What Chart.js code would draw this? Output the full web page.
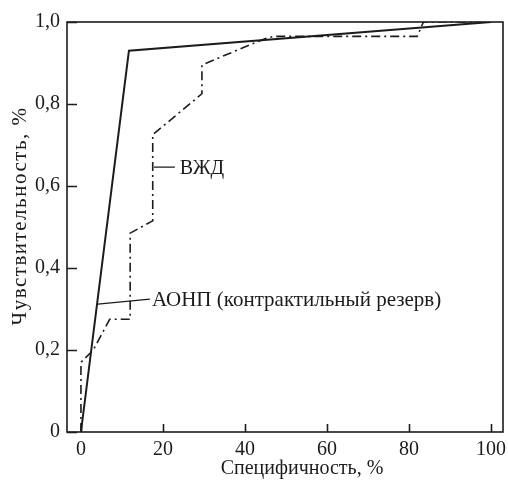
<!DOCTYPE html>
<html>
<head>
<meta charset="utf-8">
<script src="https://cdn.jsdelivr.net/npm/chart.js@4/dist/chart.umd.min.js"></script>
<style>
  html, body { margin: 0; padding: 0; background: #fff; }
  #wrap { width: 508px; height: 483px; }
</style>
</head>
<body>
<div id="wrap"><canvas id="roc"></canvas></div>
<script>
// data
const xTicks = [0, 20, 40, 60, 80, 100];
const yTicks = [0, 0.2, 0.4, 0.6, 0.8, 1.0];

const aonpX = [0, 11.7, 100];
const aonpY = [0, 0.93, 1.0];

const vzhdX = [0, 0, 3, 7, 12, 12, 17.5, 17.5, 29.5, 29.5, 33, 45, 47, 82, 83.5, 100];
const vzhdY = [0, 0.17, 0.2, 0.275, 0.275, 0.485, 0.515, 0.725, 0.825, 0.895, 0.91, 0.96, 0.965, 0.965, 1.0, 1.0];

const seriesNames = ["АОНП (контрактильный резерв)", "ВЖД"];
const xTitle = "Специфичность, %";
const yTitle = "Чувствительность, %";

const ink = "#1c1c1c";
const serif = "'Liberation Serif', 'DejaVu Serif', serif";

const toPoints = (xs, ys) => xs.map((x, i) => ({ x: x, y: ys[i] }));

// frame, inward ticks, leaders and titles
const decor = {
  id: "decor",
  afterDatasetsDraw(chart) {
    const { ctx, chartArea: a, scales } = chart;
    const sx = scales.x, sy = scales.y;
    ctx.save();
    ctx.strokeStyle = ink;
    ctx.lineWidth = 1.6;
    ctx.strokeRect(a.left, a.top, a.right - a.left, a.bottom - a.top);

    ctx.beginPath();
    xTicks.forEach((v) => {
      const px = Math.round(sx.getPixelForValue(v)) + 0.5;
      ctx.moveTo(px, a.bottom);
      ctx.lineTo(px, a.bottom - 8);
    });
    yTicks.forEach((v) => {
      const py = Math.round(sy.getPixelForValue(v)) + 0.5;
      ctx.moveTo(a.left, py);
      ctx.lineTo(a.left + 10, py);
    });
    ctx.stroke();

    // leader lines
    ctx.lineWidth = 1.3;
    ctx.beginPath();
    ctx.moveTo(sx.getPixelForValue(17.8), sy.getPixelForValue(0.646));
    ctx.lineTo(sx.getPixelForValue(22.9), sy.getPixelForValue(0.646));
    ctx.moveTo(sx.getPixelForValue(4.1), sy.getPixelForValue(0.312));
    ctx.lineTo(sx.getPixelForValue(16.8), sy.getPixelForValue(0.324));
    ctx.stroke();

    ctx.fillStyle = ink;
    ctx.textBaseline = "middle";
    ctx.textAlign = "left";
    ctx.font = "20px " + serif;
    ctx.fillText(seriesNames[1], sx.getPixelForValue(24.1), sy.getPixelForValue(0.642));
    ctx.font = "21px " + serif;
    ctx.fillText(seriesNames[0], sx.getPixelForValue(17.3), sy.getPixelForValue(0.32));

    // axis titles
    ctx.textAlign = "center";
    ctx.font = "20px " + serif;
    ctx.fillText(xTitle, (a.left + a.right) / 2 + 17, 469);
    ctx.font = "21px " + serif;
    ctx.letterSpacing = "1.5px";
    ctx.translate(20, 216);
    ctx.rotate(-Math.PI / 2);
    ctx.fillText(yTitle, 0, 0);
    ctx.restore();
  },
};

new Chart(document.getElementById("roc"), {
  type: "line",
  data: {
    datasets: [
      {
        label: seriesNames[0],
        data: toPoints(aonpX, aonpY),
        borderColor: ink,
        borderWidth: 2,
        pointRadius: 0,
        tension: 0,
      },
      {
        label: seriesNames[1],
        data: toPoints(vzhdX, vzhdY),
        borderColor: ink,
        borderWidth: 1.6,
        borderDash: [9, 4, 2, 4],
        pointRadius: 0,
        tension: 0,
      },
    ],
  },
  options: {
    responsive: true,
    maintainAspectRatio: false,
    animation: false,
    layout: { padding: { top: 22, right: 5, left: 0, bottom: 0 } },
    plugins: {
      legend: { display: false },
      tooltip: { enabled: false },
    },
    scales: {
      x: {
        type: "linear",
        min: -3.4,
        max: 102.9,
        afterBuildTicks: (s) => { s.ticks = xTicks.map((v) => ({ value: v })); },
        afterFit: (s) => { s.height = 51; s.paddingLeft = 0; s.paddingRight = 0; },
        grid: { display: false, drawTicks: false },
        border: { display: false },
        ticks: {
          color: ink,
          padding: 6,
          maxRotation: 0,
          font: { family: serif, size: 20 },
        },
      },
      y: {
        type: "linear",
        min: 0,
        max: 1,
        afterBuildTicks: (s) => { s.ticks = yTicks.map((v) => ({ value: v })); },
        afterFit: (s) => { s.width = 67; s.paddingTop = 0; s.paddingBottom = 0; },
        grid: { display: false, drawTicks: false },
        border: { display: false },
        ticks: {
          color: ink,
          padding: 7,
          font: { family: serif, size: 20 },
          callback: (v) => (v === 0 ? "0" : v.toFixed(1).replace(".", ",")),
        },
      },
    },
  },
  plugins: [decor],
});
</script>
</body>
</html>
